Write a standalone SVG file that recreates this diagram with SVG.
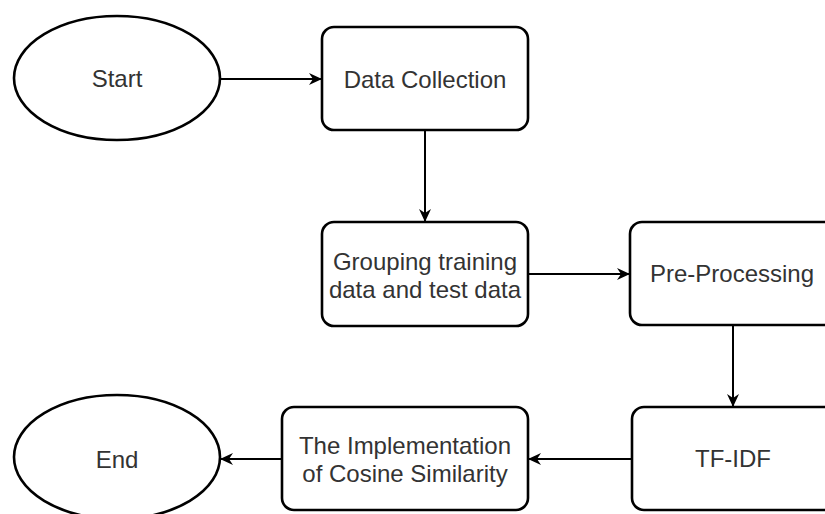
<svg xmlns="http://www.w3.org/2000/svg" width="825" height="514" viewBox="0 0 825 514">
  <defs>
    <style>
      .shape { fill: #ffffff; stroke: #000000; stroke-width: 2.6; }
      .label { font-family: "Liberation Sans", Arial, sans-serif; font-size: 24px; fill: #333333; text-anchor: middle; }
      .edge { fill: none; stroke: #000000; stroke-width: 2; marker-end: url(#arrow); }
    </style>
    <marker id="arrow" markerUnits="userSpaceOnUse" markerWidth="14" markerHeight="12" refX="13" refY="6" orient="auto">
      <path d="M0,0 L13,6 L0,12 L4,6 z" fill="#000000"/>
    </marker>
  </defs>
  <rect x="0" y="0" width="825" height="514" fill="#ffffff"/>

  <g id="connectors">
    <line class="edge" x1="220" y1="79" x2="322" y2="79"/>
    <line class="edge" x1="425" y1="130" x2="425" y2="222"/>
    <line class="edge" x1="528" y1="274" x2="630" y2="274"/>
    <line class="edge" x1="733" y1="325" x2="733" y2="407"/>
    <line class="edge" x1="632" y1="459" x2="528" y2="459"/>
    <line class="edge" x1="282" y1="459" x2="220" y2="459"/>
  </g>

  <g id="start">
    <ellipse class="shape" cx="117" cy="78" rx="103" ry="62"/>
    <text class="label" x="117" y="87">Start</text>
  </g>

  <g id="data-collection">
    <rect class="shape" x="322" y="27" width="206" height="103" rx="12" ry="12"/>
    <text class="label" x="425" y="88">Data Collection</text>
  </g>

  <g id="grouping">
    <rect class="shape" x="322" y="222" width="206" height="104" rx="12" ry="12"/>
    <text class="label" x="425" y="270">Grouping training</text>
    <text class="label" x="425" y="298">data and test data</text>
  </g>

  <g id="pre-processing">
    <rect class="shape" x="630" y="222" width="206" height="103" rx="12" ry="12"/>
    <text class="label" x="732" y="282">Pre-Processing</text>
  </g>

  <g id="tf-idf">
    <rect class="shape" x="632" y="407" width="206" height="103" rx="12" ry="12"/>
    <text class="label" x="733" y="467">TF-IDF</text>
  </g>

  <g id="cosine">
    <rect class="shape" x="282" y="407" width="246" height="103" rx="12" ry="12"/>
    <text class="label" x="405" y="454">The Implementation</text>
    <text class="label" x="405" y="482">of Cosine Similarity</text>
  </g>

  <g id="end">
    <ellipse class="shape" cx="117" cy="457" rx="103" ry="62"/>
    <text class="label" x="117" y="468">End</text>
  </g>
</svg>
